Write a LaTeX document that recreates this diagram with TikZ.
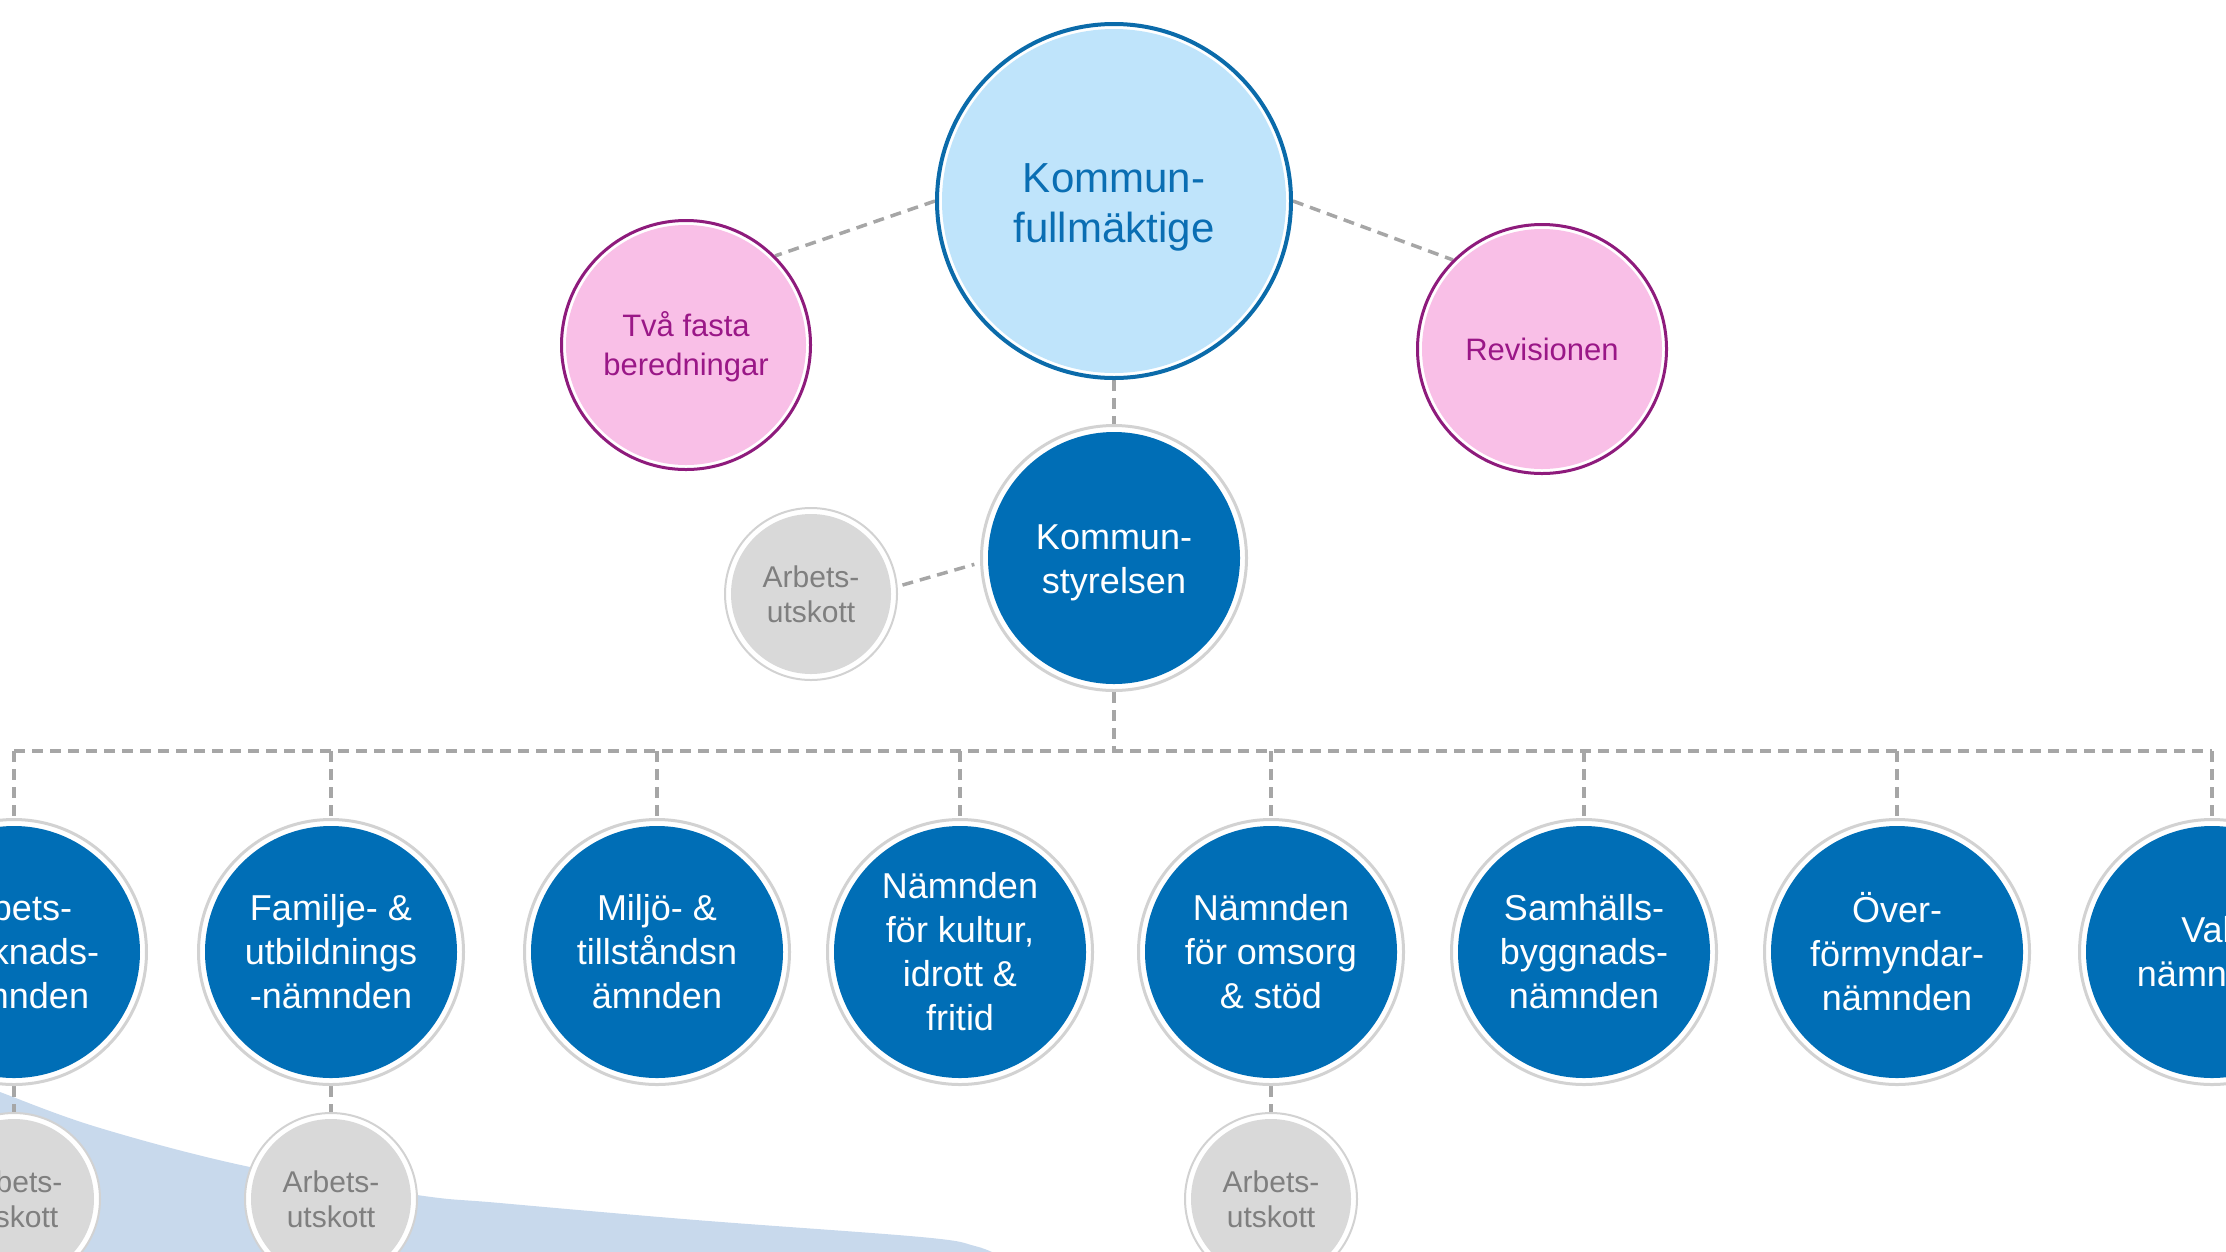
\documentclass[tikz,border=0pt]{standalone}
\usepackage{fontspec}
\setmainfont{Liberation Sans}
\usetikzlibrary{backgrounds}
\definecolor{kfline}{HTML}{0B6BAA}
\definecolor{kffill}{HTML}{BFE4FB}
\definecolor{kftext}{HTML}{0A6EB3}
\definecolor{pkfill}{HTML}{F9BFE7}
\definecolor{pkline}{HTML}{8E1B7C}
\definecolor{pktext}{HTML}{9A1787}
\definecolor{nblue}{HTML}{006EB6}
\definecolor{ringgray}{HTML}{D2D2D2}
\definecolor{grfill}{HTML}{D9D9D9}
\definecolor{grtext}{HTML}{7F7F7F}
\definecolor{dashcol}{HTML}{A6A6A6}
\definecolor{wavecol}{HTML}{C8D9EC}
\tikzset{
  kfnode/.style={circle, inner sep=0pt, minimum size=354pt, line width=4pt, draw=kfline, fill=white,
    path picture={\fill[kffill] (path picture bounding box.center) circle (172pt);},
    text=kftext, align=center, font=\fontsize{42}{50}\selectfont},
  pknode/.style={circle, inner sep=0pt, minimum size=249pt, line width=3pt, draw=pkline, fill=white,
    path picture={\fill[pkfill] (path picture bounding box.center) circle (120pt);},
    text=pktext, align=center, font=\fontsize{31}{39}\selectfont},
  bnode/.style={circle, inner sep=0pt, minimum size=265pt, line width=3pt, draw=ringgray, fill=white,
    path picture={\fill[nblue] (path picture bounding box.center) circle (126pt);},
    text=white, align=center, font=\fontsize{36}{44}\selectfont},
  gnode/.style={circle, inner sep=0pt, minimum size=172pt, line width=2pt, draw=ringgray, fill=white,
    path picture={\fill[grfill] (path picture bounding box.center) circle (80pt);},
    text=grtext, align=center, font=\fontsize{30}{35}\selectfont},
  conn/.style={draw=dashcol, line width=3.5pt, dash pattern=on 11pt off 7pt},
}
\begin{document}
\begin{tikzpicture}[x=1pt, y=-1pt]
\useasboundingbox (0,0) rectangle (2226,1251);
\clip (0,0) rectangle (2226,1251);

% nodes
\node[kfnode] (kf) at (1114,201) {\rule{0pt}{42pt}Kommun-\\fullmäktige};
\node[pknode] (tva) at (686,345) {\rule{0pt}{28pt}Två fasta\\beredningar};
\node[pknode] (rev) at (1542,349) {Revisionen};
\node[bnode] (ks) at (1114,558) {\rule{0pt}{34pt}Kommun-\\styrelsen};
\node[gnode] (au0) at (811,594) {Arbets-\\utskott};

\node[bnode] (n1) at (14,952) {Arbets-\\marknads-\\nämnden};
\node[bnode] (n2) at (331,952) {Familje- \&\\utbildnings\\-nämnden};
\node[bnode] (n3) at (657,952) {Miljö- \&\\tillståndsn\\ämnden};
\node[bnode] (n4) at (960,952) {Nämnden\\för kultur,\\idrott \&\\fritid};
\node[bnode] (n5) at (1271,952) {Nämnden\\för omsorg\\\& stöd};
\node[bnode] (n6) at (1584,952) {Samhälls-\\byggnads-\\nämnden};
\node[bnode] (n7) at (1897,952) {Över-\\förmyndar-\\nämnden};
\node[bnode] (n8) at (2212,952) {Val-\\nämnden};

\node[gnode] (au1) at (14,1199) {Arbets-\\utskott};
\node[gnode] (au2) at (331,1199) {Arbets-\\utskott};
\node[gnode] (au5) at (1271,1199) {Arbets-\\utskott};

\coordinate (bus) at (1114,751);

\begin{scope}[on background layer]
  \fill[wavecol] plot[smooth, tension=0.6] coordinates {(-30,1080) (0,1092) (100,1128) (250,1167) (417,1195) (500,1203) (696,1220) (921,1237) (975,1246) (1000,1256)}
    -- (1000,1260) -- (-30,1260) -- cycle;
  \draw[conn] (kf.west) -- (tva.45);
  \draw[conn] (kf.east) -- (rev.135);
  \draw[conn] (kf.south) -- (ks.north);
  \draw[conn, shorten <=5pt, shorten >=6pt] (au0.5) -- (ks.182);
  \draw[conn] (ks.south) -- (bus);
  \draw[conn] (n1.north |- bus) -- (n8.north |- bus);
  \foreach \n in {n1,n2,n3,n4,n5,n6,n7,n8} {
    \draw[conn] (\n.north |- bus) -- (\n.north);
  }
  \draw[conn] (n1.south) -- (au1.north);
  \draw[conn] (n2.south) -- (au2.north);
  \draw[conn] (n5.south) -- (au5.north);
\end{scope}
\end{tikzpicture}
\end{document}
